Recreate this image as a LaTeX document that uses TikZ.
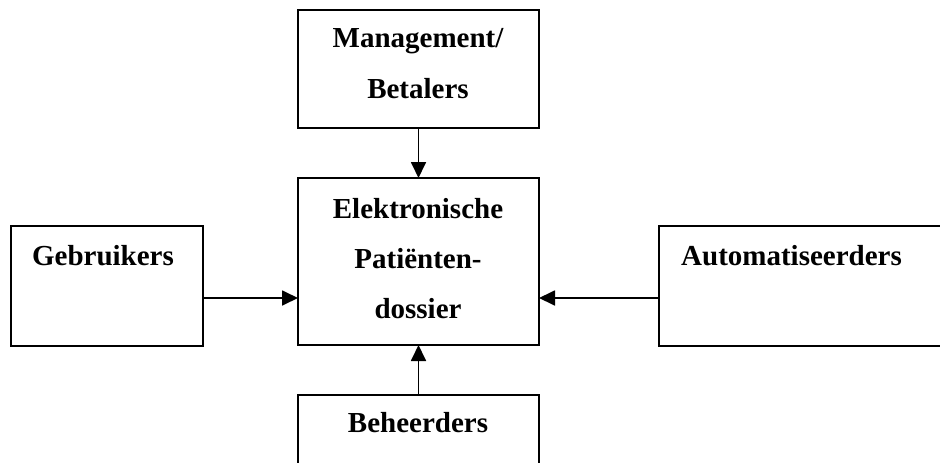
\documentclass[tikz,border=0pt]{standalone}
\usepackage{fontspec}
\setmainfont{Liberation Serif}
\usetikzlibrary{arrows.meta, calc}
\tikzset{
  box/.style={draw, rectangle, line width=2.8pt, inner sep=0pt, outer sep=0pt},
  lbl/.style={font=\fontsize{29}{50}\selectfont\bfseries, anchor=base, inner sep=0pt},
  arr/.style={line width=1.8pt, -{Triangle[length=16pt, width=15pt]}}
}

\begin{document}
\begin{tikzpicture}[x=1pt, y=-1pt]
  \useasboundingbox (0,0) rectangle (940,463);
  \clip (0,0) rectangle (940,463);

  % Boxes
  \node[box, minimum width=241pt, minimum height=118pt] (mgt) at (418.5,69) {};
  \node[box, minimum width=241pt, minimum height=167pt] (epd) at (418.5,261.5) {};
  \node[box, minimum width=192pt, minimum height=120pt] (gebr) at (107,286) {};
  \node[box, minimum width=301pt, minimum height=120pt] (auto) at (809.5,286) {};
  \node[box, minimum width=241pt, minimum height=90pt] (beh) at (418.5,440) {};

  % Labels
  \node[lbl] (mgt1) at (418,47) {Management/};
  \node[lbl] (mgt2) at (418,98) {Betalers};
  \node[lbl] (epd1) at (418,218) {Elektronische};
  \node[lbl] (epd2) at (418,268) {Patiënten-};
  \node[lbl] (epd3) at (418,318) {dossier};
  \node[lbl] (gebr1) at (103,265) {Gebruikers};
  \node[lbl, anchor=base west] (auto1) at (681,265) {Automatiseerders};
  \node[lbl] (beh1) at (418,432) {Beheerders};

  % Arrows
  \coordinate (gebrout) at ($(gebr.south east)!0.4!(gebr.north east)$);
  \coordinate (autoout) at ($(auto.south west)!0.4!(auto.north west)$);
  \draw[arr] (mgt.south) -- (epd.north);
  \draw[arr] (beh.north) -- (epd.south);
  \draw[arr] (gebrout) -- (epd.west |- gebrout);
  \draw[arr] (autoout) -- (epd.east |- autoout);
\end{tikzpicture}
\end{document}
